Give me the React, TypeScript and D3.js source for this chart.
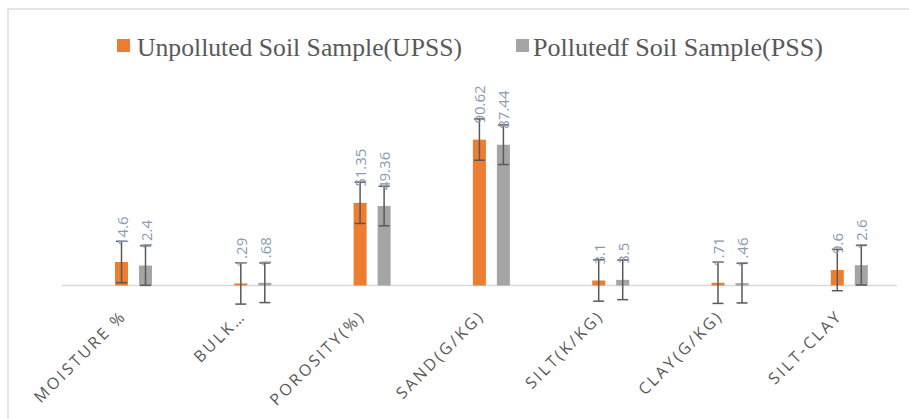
import React from "react";
import * as d3 from "d3";

const categories = ["MOISTURE %", "BULK…", "POROSITY(%)", "SAND(G/KG)", "SILT(K/KG)", "CLAY(G/KG)", "SILT-CLAY"];
const seriesNames = ["Unpolluted Soil Sample(UPSS)", "Pollutedf Soil Sample(PSS)"];
const upssValues = [14.6, 1.29, 51.35, 90.62, 3.1, 1.71, 9.6];
const pssValues = [12.4, 1.68, 49.36, 87.44, 3.5, 1.46, 12.6];
const upssLabels = ["14.6", "1.29", "51.35", "90.62", "3.1", "1.71", "9.6"];
const pssLabels = ["12.4", "1.68", "49.36", "87.44", "3.5", "1.46", "12.6"];
const upssErrors = [12.84, 12.84, 12.84, 12.84, 12.84, 12.84, 12.84];
const pssErrors = [12.3, 12.3, 12.3, 12.3, 12.3, 12.3, 12.3];

const W = 909;
const H = 419;
const colors = ["#ED7D31", "#A5A5A5"];

export default function App() {
  const x = d3.scaleBand<string>().domain(categories).range([73.85, 908.95]).padding(0);
  const bw = x.bandwidth();
  const inner = d3
    .scaleBand<string>()
    .domain(seriesNames)
    .range([bw / 2 - 18.5, bw / 2 + 18.5])
    .paddingInner(2 - 37 / 24)
    .paddingOuter(0);
  const y = d3.scaleLinear().domain([0, 100]).range([285.5, 124.5]);

  const series = [
    { name: seriesNames[0], values: upssValues, labels: upssLabels, errors: upssErrors, color: colors[0] },
    { name: seriesNames[1], values: pssValues, labels: pssLabels, errors: pssErrors, color: colors[1] },
  ];

  const capHalf = 5.5;

  return (
    <div style={{ position: "fixed", left: 0, top: 0 }}>
      <svg width={W} height={H} style={{ display: "block", background: "#fff" }}>
        <line x1={7} x2={W} y1={9} y2={9} stroke="#e6e6e6" strokeWidth={2} />
        <line x1={8} x2={8} y1={8} y2={H} stroke="#e6e6e6" strokeWidth={2} />

        {/* legend */}
        <rect x={117} y={39} width={13} height={13} fill={colors[0]} />
        <text x={137} y={55.5} fontFamily="'Liberation Serif', serif" fontSize={26} fill="#595959" textLength={325} lengthAdjust="spacingAndGlyphs">
          {seriesNames[0]}
        </text>
        <rect x={516} y={39} width={13} height={13} fill={colors[1]} />
        <text x={533} y={55.5} fontFamily="'Liberation Serif', serif" fontSize={26} fill="#595959" textLength={290} lengthAdjust="spacingAndGlyphs">
          {seriesNames[1]}
        </text>

        {/* baseline */}
        <line x1={62} x2={897} y1={y(0)} y2={y(0)} stroke="#d9d9d9" strokeWidth={1.5} />

        {series.map((s) =>
          categories.map((c, i) => {
            const bx = (x(c) as number) + (inner(s.name) as number);
            const cx = bx + inner.bandwidth() / 2;
            const v = s.values[i];
            const top = y(v);
            const e = s.errors[i];
            const eTop = y(v + e);
            const eBot = y(v - e);
            return (
              <g key={s.name + c}>
                <rect x={bx} y={top} width={inner.bandwidth()} height={y(0) - top} fill={s.color} />
                <line x1={cx} x2={cx} y1={eTop} y2={eBot} stroke="#595959" strokeWidth={1.5} />
                <line x1={cx - capHalf} x2={cx + capHalf} y1={eTop} y2={eTop} stroke="#595959" strokeWidth={1.5} />
                <line x1={cx - capHalf} x2={cx + capHalf} y1={eBot} y2={eBot} stroke="#595959" strokeWidth={1.5} />
                <text
                  transform={`translate(${cx},${top - 16}) rotate(-90)`}
                  fontFamily="'Open Sans', sans-serif"
                  fontSize={15}
                  fill="#8A9BB2"
                  dominantBaseline="central"
                  textAnchor="start"
                >
                  {s.labels[i]}
                </text>
              </g>
            );
          })
        )}

        {categories.map((c) => {
          const cx = (x(c) as number) + bw / 2;
          return (
            <text
              key={c}
              transform={`translate(${cx - 6},${317}) rotate(-45)`}
              textAnchor="end"
              fontFamily="'Open Sans', sans-serif"
              fontSize={16}
              letterSpacing={2.6}
              fill="#595959"
            >
              {c}
            </text>
          );
        })}
      </svg>
    </div>
  );
}
